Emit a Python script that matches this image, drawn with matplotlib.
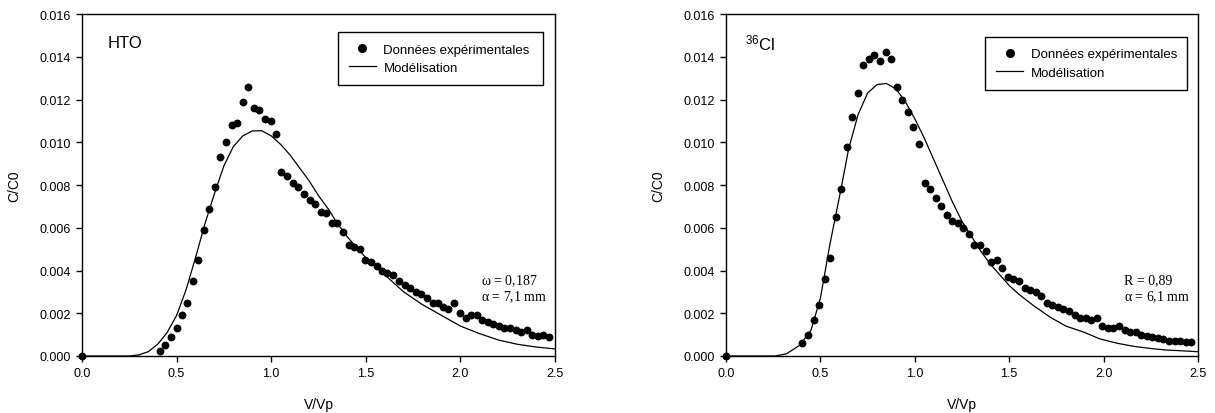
import matplotlib
matplotlib.use("Agg")
import matplotlib.pyplot as plt
from matplotlib.lines import Line2D

plt.rcParams['font.family'] = ['Liberation Sans', 'DejaVu Sans']
plt.rcParams['mathtext.fontset'] = 'custom'
plt.rcParams['mathtext.rm'] = 'Liberation Sans'
plt.rcParams['mathtext.default'] = 'regular'

# ---------------- HTO ----------------
hto_x = [0.0, 0.41, 0.44, 0.47, 0.50, 0.53, 0.555, 0.585, 0.613, 0.643, 0.673, 0.701, 0.731,
         0.761, 0.791, 0.821, 0.849, 0.879, 0.907, 0.937, 0.967, 0.997, 1.027, 1.053,
         1.084, 1.114, 1.143, 1.173, 1.203, 1.232, 1.262, 1.291, 1.321, 1.349, 1.380,
         1.410, 1.438, 1.468, 1.497, 1.527, 1.558, 1.584, 1.614, 1.645, 1.674, 1.707,
         1.734, 1.764, 1.792, 1.822, 1.853, 1.880, 1.910, 1.936, 1.966, 1.998, 2.028,
         2.056, 2.086, 2.116, 2.144, 2.174, 2.204, 2.232, 2.262, 2.292, 2.320, 2.350,
         2.380, 2.410, 2.438, 2.470]
hto_y = [0.0, 0.00025, 0.00053, 0.00087, 0.0013, 0.0019, 0.0025, 0.0035, 0.0045, 0.0059,
         0.0069, 0.0079, 0.0093, 0.0100, 0.0108, 0.0109, 0.0119, 0.0126, 0.0116, 0.0115,
         0.0111, 0.0110, 0.0104, 0.0086, 0.0084, 0.0081, 0.0079, 0.0076, 0.0073, 0.0071,
         0.00675, 0.0067, 0.0062, 0.0062, 0.0058, 0.0052, 0.0051, 0.0050, 0.0045, 0.0044,
         0.0042, 0.0040, 0.0039, 0.0038, 0.0035, 0.0033, 0.0032, 0.0030, 0.0029, 0.0027,
         0.0025, 0.0025, 0.0023, 0.0022, 0.0025, 0.0020, 0.0018, 0.0019, 0.0019, 0.0017,
         0.0016, 0.0015, 0.0014, 0.0013, 0.0013, 0.0012, 0.0011, 0.0012, 0.0010, 0.00095,
         0.0010, 0.00087]
hto_model_x = [0.0, 0.25, 0.30, 0.35, 0.40, 0.45, 0.50, 0.55, 0.60, 0.65, 0.70, 0.75, 0.80,
               0.85, 0.90, 0.95, 1.00, 1.05, 1.10, 1.15, 1.20, 1.25, 1.30, 1.35, 1.40,
               1.45, 1.50, 1.60, 1.70, 1.80, 1.90, 2.00, 2.10, 2.20, 2.30, 2.40, 2.50]
hto_model_y = [0.0, 0.0, 0.00005, 0.0002, 0.00055, 0.0011, 0.0019, 0.0031, 0.0046, 0.0062,
               0.0076, 0.0089, 0.0098, 0.0103, 0.01053, 0.01054, 0.0103, 0.0099, 0.0094,
               0.0088, 0.0082, 0.0075, 0.0069, 0.0062, 0.0056, 0.0051, 0.0046, 0.0038,
               0.0030, 0.0024, 0.0019, 0.0014, 0.00105, 0.00075, 0.00055, 0.00042, 0.00033]

# ---------------- 36Cl ----------------
cl_x = [0.0, 0.404, 0.434, 0.465, 0.493, 0.523, 0.553, 0.581, 0.611, 0.639, 0.669, 0.698,
        0.727, 0.757, 0.785, 0.816, 0.846, 0.876, 0.906, 0.934, 0.964, 0.992, 1.022,
        1.052, 1.081, 1.111, 1.140, 1.169, 1.198, 1.228, 1.258, 1.287, 1.313, 1.345,
        1.375, 1.403, 1.433, 1.463, 1.494, 1.522, 1.552, 1.582, 1.610, 1.640, 1.670,
        1.699, 1.728, 1.759, 1.787, 1.817, 1.847, 1.875, 1.905, 1.935, 1.967, 1.993,
        2.023, 2.051, 2.082, 2.112, 2.140, 2.170, 2.200, 2.228, 2.258, 2.288, 2.316,
        2.346, 2.376, 2.405, 2.435, 2.464]
cl_y = [0.0, 0.0006, 0.0010, 0.0017, 0.0024, 0.0036, 0.0046, 0.0065, 0.0078, 0.0098,
        0.0112, 0.0123, 0.0136, 0.0139, 0.0141, 0.0138, 0.0142, 0.0139, 0.0126, 0.0120,
        0.0114, 0.0107, 0.0099, 0.0081, 0.0078, 0.0074, 0.0070, 0.0066, 0.0063, 0.0062,
        0.0060, 0.0057, 0.0052, 0.0052, 0.0049, 0.0044, 0.0045, 0.0041, 0.0037, 0.0036,
        0.0035, 0.0032, 0.0031, 0.0030, 0.0028, 0.0025, 0.0024, 0.0023, 0.0022, 0.0021,
        0.0019, 0.0018, 0.0018, 0.0017, 0.0018, 0.0014, 0.0013, 0.0013, 0.0014, 0.0012,
        0.0011, 0.0011, 0.0010, 0.00095, 0.0009, 0.00084, 0.0008, 0.00072, 0.00069,
        0.00069, 0.00064, 0.00067]
cl_model_x = [0.0, 0.26, 0.32, 0.39, 0.45, 0.50, 0.55, 0.60, 0.65, 0.70, 0.75, 0.80, 0.85,
              0.90, 0.95, 1.00, 1.05, 1.10, 1.15, 1.20, 1.25, 1.30, 1.35, 1.40, 1.45,
              1.50, 1.55, 1.63, 1.72, 1.80, 1.90, 1.98, 2.07, 2.16, 2.25, 2.33, 2.40, 2.50]
cl_model_y = [0.0, 0.0, 0.0001, 0.0005, 0.0012, 0.0027, 0.0052, 0.0074, 0.0097, 0.0113,
              0.0123, 0.0127, 0.01275, 0.0125, 0.0119, 0.0111, 0.0102, 0.0092, 0.0082,
              0.0072, 0.0063, 0.0056, 0.0049, 0.0043, 0.0038, 0.0033, 0.0029, 0.00235,
              0.0018, 0.0014, 0.0011, 0.0008, 0.0006, 0.00045, 0.00035, 0.00028, 0.00025,
              0.0002]

x_ticks = [0.0, 0.5, 1.0, 1.5, 2.0, 2.5]
y_ticks = [0.000, 0.002, 0.004, 0.006, 0.008, 0.010, 0.012, 0.014, 0.016]

fig = plt.figure(figsize=(12.15, 4.14), dpi=100)
ax1 = fig.add_axes([0.0675, 0.1377, 0.3893, 0.826])
ax2 = fig.add_axes([0.5975, 0.1377, 0.3885, 0.826])

panels = [
    (ax1, hto_x, hto_y, hto_model_x, hto_model_y, 'HTO', 0.055,
     [r'$\omega$ = 0,187', r'$\alpha$ = 7,1 mm'], (0.541, 0.947, 0.434)),
    (ax2, cl_x, cl_y, cl_model_x, cl_model_y, r'$^{36}$Cl', 0.04,
     ['R = 0,89', r'$\alpha$ = 6,1 mm'], (0.549, 0.933, 0.428)),
]

for ax, dx, dy, mx, my, title, tx, ann, lg in panels:
    ax.plot(mx, my, color='black', lw=0.9, zorder=2)
    ax.scatter(dx, dy, s=32, color='black', zorder=5, clip_on=False, linewidths=0)
    ax.set_xlim(0, 2.5)
    ax.set_ylim(0, 0.016)
    ax.set_xticks(x_ticks)
    ax.set_yticks(y_ticks)
    ax.set_xticklabels([f'{v:.1f}' for v in x_ticks])
    ax.set_yticklabels([f'{v:.3f}' for v in y_ticks])
    ax.tick_params(direction='out', length=4, width=1, labelsize=9, pad=4)
    for sp in ax.spines.values():
        sp.set_linewidth(1.0)
        sp.set_color('black')
    ax.set_xlabel('V/Vp', fontsize=10, labelpad=13)
    ax.set_ylabel('C/C0', fontsize=10, labelpad=13)
    ax.text(tx, 0.918, title, transform=ax.transAxes,
            fontsize=12, va='center', ha='left')
    ax.text(0.8435, 0.222, ann[0], transform=ax.transAxes, fontsize=10,
            family=['Liberation Serif'], va='center', ha='left',
            math_fontfamily='stix')
    ax.text(0.8435, 0.176, ann[1], transform=ax.transAxes, fontsize=10,
            family=['Liberation Serif'], va='center', ha='left',
            math_fontfamily='stix')
    handles = [Line2D([], [], marker='o', ls='none', color='black', ms=5.5),
               Line2D([], [], color='black', lw=0.9)]
    leg = ax.legend(handles, ['Données expérimentales', 'Modélisation'],
                    loc='upper left', bbox_to_anchor=(lg[0], lg[1] - 0.15, lg[2], 0.15),
                    mode='expand', fontsize=9.5, frameon=True, fancybox=False,
                    edgecolor='black', framealpha=1, handlelength=2.0,
                    handletextpad=0.6, borderpad=0.85, labelspacing=0.45,
                    borderaxespad=0)
    leg.get_frame().set_linewidth(1.0)

fig.savefig('out.png', dpi=100)
